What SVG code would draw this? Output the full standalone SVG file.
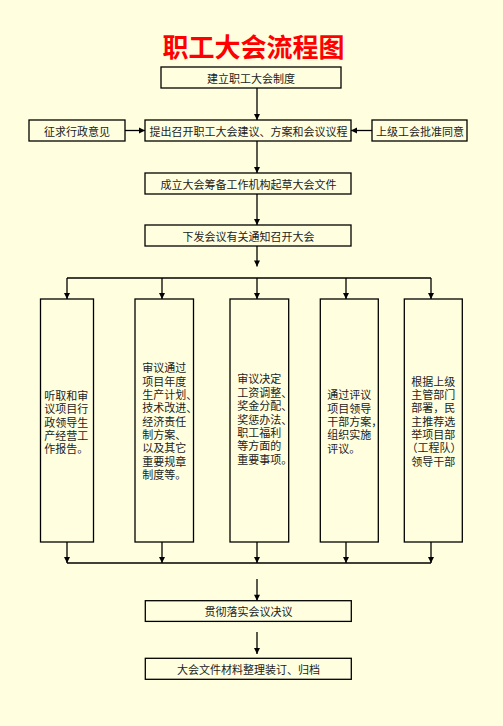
<svg xmlns="http://www.w3.org/2000/svg" width="503" height="726" viewBox="0 0 503 726">
<style>
.box{fill:#FFFFE0;stroke:#000;stroke-width:1.3}
.t{font-family:"Noto Sans CJK SC","Noto Sans",sans-serif;font-size:11px;fill:#222}
.c{text-anchor:middle;dominant-baseline:central}
.l{dominant-baseline:central}
.ln{stroke:#000;stroke-width:1.3;fill:none}
.title{font-family:"Noto Sans CJK SC",sans-serif;font-size:26px;font-weight:bold;fill:#FF0000;text-anchor:middle;dominant-baseline:central}
</style>
<defs>
<marker id="ah" markerUnits="userSpaceOnUse" markerWidth="8" markerHeight="8" viewBox="0 0 8 8" refX="7" refY="4" orient="auto">
<path d="M1,1 L7,4 L1,7 Z" fill="#000"/>
</marker>
</defs>
<rect width="503" height="726" fill="#FFFFE0"/>
<text class="title" x="253.5" y="45.5">职工大会流程图</text>

<g id="connectors">
<line class="ln" x1="257" y1="88" x2="257" y2="120" marker-end="url(#ah)"/>
<line class="ln" x1="125" y1="130.5" x2="145" y2="130.5" marker-end="url(#ah)"/>
<line class="ln" x1="372" y1="130.5" x2="351" y2="130.5" marker-end="url(#ah)"/>
<line class="ln" x1="257" y1="141" x2="257" y2="173" marker-end="url(#ah)"/>
<line class="ln" x1="257" y1="194" x2="257" y2="225" marker-end="url(#ah)"/>
<line class="ln" x1="257" y1="246" x2="257" y2="266.5" marker-end="url(#ah)"/>
<line class="ln" x1="67" y1="278" x2="431" y2="278"/>
<line class="ln" x1="67" y1="278" x2="67" y2="299" marker-end="url(#ah)"/>
<line class="ln" x1="162" y1="278" x2="162" y2="299" marker-end="url(#ah)"/>
<line class="ln" x1="257" y1="278" x2="257" y2="299" marker-end="url(#ah)"/>
<line class="ln" x1="346" y1="278" x2="346" y2="299" marker-end="url(#ah)"/>
<line class="ln" x1="431" y1="278" x2="431" y2="299" marker-end="url(#ah)"/>
<line class="ln" x1="67" y1="542" x2="67" y2="563" marker-end="url(#ah)"/>
<line class="ln" x1="162" y1="542" x2="162" y2="563" marker-end="url(#ah)"/>
<line class="ln" x1="257" y1="542" x2="257" y2="563" marker-end="url(#ah)"/>
<line class="ln" x1="346" y1="542" x2="346" y2="563" marker-end="url(#ah)"/>
<line class="ln" x1="431" y1="542" x2="431" y2="563" marker-end="url(#ah)"/>
<line class="ln" x1="67" y1="563" x2="431" y2="563"/>
<line class="ln" x1="257" y1="579" x2="257" y2="600.7" marker-end="url(#ah)"/>
<line class="ln" x1="257" y1="632" x2="257" y2="654" marker-end="url(#ah)"/>
</g>

<g id="n1"><rect class="box" x="161" y="67" width="180" height="21"/><text class="t c" x="251" y="78">建立职工大会制度</text></g>
<g id="n2"><rect class="box" x="29" y="120" width="96" height="21"/><text class="t c" x="77" y="130.5">征求行政意见</text></g>
<g id="n3"><rect class="box" x="145" y="120" width="206" height="21"/><text class="t c" x="248.5" y="130.5">提出召开职工大会建议、方案和会议议程</text></g>
<g id="n4"><rect class="box" x="372" y="120" width="95" height="21"/><text class="t c" x="420" y="130.5">上级工会批准同意</text></g>
<g id="n5"><rect class="box" x="145" y="173" width="206" height="21"/><text class="t c" x="248.5" y="183.5">成立大会筹备工作机构起草大会文件</text></g>
<g id="n6"><rect class="box" x="145" y="225" width="206" height="21"/><text class="t c" x="248.5" y="235.5">下发会议有关通知召开大会</text></g>

<g id="n7"><rect class="box" x="40.5" y="299" width="53" height="243"/>
<text class="t l" x="44.3">
<tspan x="44.3" y="395">听取和审</tspan><tspan x="44.3" y="408.3">议项目行</tspan><tspan x="44.3" y="421.7">政领导生</tspan><tspan x="44.3" y="435">产经营工</tspan><tspan x="44.3" y="448.3">作报告。</tspan>
</text></g>
<g id="n8"><rect class="box" x="135" y="299" width="58.5" height="243"/>
<text class="t l" x="142.3">
<tspan x="142.3" y="367.3">审议通过</tspan><tspan x="142.3" y="380.7">项目年度</tspan><tspan x="142.3" y="394">生产计划、</tspan><tspan x="142.3" y="407.3">技术改进、</tspan><tspan x="142.3" y="420.7">经济责任</tspan><tspan x="142.3" y="434">制方案、</tspan><tspan x="142.3" y="447.3">以及其它</tspan><tspan x="142.3" y="460.7">重要规章</tspan><tspan x="142.3" y="474">制度等。</tspan>
</text></g>
<g id="n9"><rect class="box" x="230" y="299" width="58.7" height="243"/>
<text class="t l" x="237.3">
<tspan x="237.3" y="378.3">审议决定</tspan><tspan x="237.3" y="391.7">工资调整、</tspan><tspan x="237.3" y="405.1">奖金分配、</tspan><tspan x="237.3" y="418.5">奖惩办法、</tspan><tspan x="237.3" y="431.9">职工福利</tspan><tspan x="237.3" y="445.3">等方面的</tspan><tspan x="237.3" y="458.7">重要事项。</tspan>
</text></g>
<g id="n10"><rect class="box" x="320.3" y="299" width="58" height="243"/>
<text class="t l" x="327.3">
<tspan x="327.3" y="394.3">通过评议</tspan><tspan x="327.3" y="407.6">项目领导</tspan><tspan x="327.3" y="420.9">干部方案，</tspan><tspan x="327.3" y="434.2">组织实施</tspan><tspan x="327.3" y="447.5">评议。</tspan>
</text></g>
<g id="n11"><rect class="box" x="404.3" y="299" width="58" height="243"/>
<text class="t l" x="411.3">
<tspan x="411.3" y="380.7">根据上级</tspan><tspan x="411.3" y="394">主管部门</tspan><tspan x="411.3" y="407.3">部署，民</tspan><tspan x="411.3" y="420.7">主推荐选</tspan><tspan x="411.3" y="434">举项目部</tspan><tspan x="406.5" y="447.3">（工程队）</tspan><tspan x="411.3" y="460.7">领导干部</tspan>
</text></g>

<g id="n12"><rect class="box" x="145.3" y="600.7" width="206" height="20.7"/><text class="t c" x="248.5" y="611">贯彻落实会议决议</text></g>
<g id="n13"><rect class="box" x="145.3" y="658.3" width="206" height="21"/><text class="t c" x="248.5" y="668.8">大会文件材料整理装订、归档</text></g>
</svg>
